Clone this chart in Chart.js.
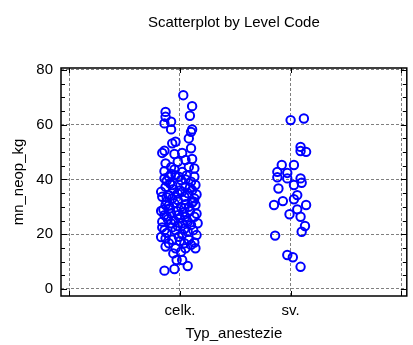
<!DOCTYPE html>
<html>
<head>
<meta charset="utf-8">
<script src="https://cdn.jsdelivr.net/npm/chart.js@4.4.1/dist/chart.umd.min.js"></script>
<style>
html,body{margin:0;padding:0;background:#fff;}
#wrap{width:413px;height:345px;position:relative;}
</style>
</head>
<body>
<div id="wrap"><canvas id="c" width="413" height="345"></canvas></div>
<script>
const categories = ['celk.', 'sv.'];
const categoryPositions = [1, 2];
const yTicks = [0, 20, 40, 60, 80];

const celkValues = [70.8,66.8,64.7,63.3,62.9,60.5,61.1,58.3,58.3,57.4,55.0,53.8,53.2,51.4,50.5,49.7,49.3,49.7,45.9,46.5,47.1,44.6,44.0,43.7,42.8,40.4,41.0,41.6,39.8,39.2,38.0,37.3,38.0,37.3,36.1,33.7,34.3,34.9,33.7,33.1,30.7,31.3,30.0,30.0,30.7,27.0,27.6,27.0,26.4,26.4,24.6,24.0,24.0,23.4,21.5,21.5,20.9,19.7,18.5,19.1,16.7,16.7,16.1,14.9,14.9,13.6,14.9,10.6,10.6,8.4,7.3,6.7,
  35.5,32.0,36.5,36.0,35.0,32.0,29.0,29.5,28.5,28.0,28.5,27.5,25.5,25.0,26.0,25.0,22.5,22.0,20.5,21.5,41.0,41.5,44.5,47.5,22.5,19.0,24.0,32.5,31.0,38.5,41.0,43.0,17.5,18.0,13.0,17.0,15.5,
  26.5,30.5,33.0,35.5,37.0,39.5,31.5,23.0,24.5,28.5,34.5,40.0,42.0,20.0,18.0,29.5,33.5];
const celkJitter = [0.03,0.11,-0.13,0.09,-0.13,-0.14,-0.08,-0.08,0.11,0.10,0.08,-0.04,-0.07,0.10,-0.14,-0.16,-0.05,0.02,-0.13,-0.02,0.05,0.08,0.13,-0.05,0.02,-0.14,-0.10,-0.04,0.01,0.10,0.14,-0.13,-0.07,0.05,0.11,-0.16,-0.10,-0.02,0.04,0.13,-0.13,-0.05,0.01,0.08,0.14,-0.14,-0.08,-0.02,0.05,0.13,-0.16,-0.08,0.02,0.10,-0.14,-0.04,0.07,0.15,-0.13,-0.01,-0.10,0.04,0.10,0.14,-0.04,0.01,0.05,-0.03,0.02,0.07,-0.05,-0.14,
  -0.17,-0.12,-0.06,0.00,0.07,0.12,-0.15,-0.09,-0.03,0.03,0.09,0.15,-0.11,-0.05,0.00,0.06,-0.07,0.04,-0.12,0.12,-0.01,0.06,-0.08,0.11,-0.16,-0.17,0.16,-0.02,0.05,-0.09,0.13,-0.14,0.00,0.08,-0.06,0.13,-0.13,
  -0.12,-0.10,-0.07,0.02,0.09,-0.12,0.11,-0.02,0.07,-0.17,0.15,0.05,-0.08,0.02,-0.07,0.04,-0.12];

const svValues = [61.7,62.3,51.9,50.4,50.1,45.3,45.3,42.8,42.4,40.8,40.4,40.4,38.8,38.0,36.7,34.3,32.8,32.1,30.7,30.7,29.1,27.3,26.4,23.0,20.9,19.5,12.4,11.6,8.1];
const svJitter = [0.00,0.12,0.09,0.09,0.14,-0.08,0.03,-0.12,-0.03,-0.12,-0.03,0.09,0.10,0.03,-0.11,0.06,0.03,-0.07,-0.15,0.14,0.06,-0.01,0.09,0.13,0.10,-0.14,-0.03,0.02,0.09];

function toPoints(pos, jitter, values) {
  return values.map((v, i) => ({x: pos + jitter[i], y: v}));
}

const FONT = "'Liberation Sans', Arial, sans-serif";

const framePlugin = {
  id: 'frame',
  afterDatasetsDraw(chart) {
    const {ctx, chartArea: a, scales} = chart;
    const ys = scales.y, xs = scales.x;
    ctx.save();
    ctx.strokeStyle = '#000';
    ctx.lineWidth = 1;
    for (let v = 0; v <= 80; v += 5) {
      const py = Math.round(ys.getPixelForValue(v)) + 0.5;
      const len = (v % 20 === 0) ? 6 : 4;
      ctx.beginPath();
      ctx.moveTo(a.left, py); ctx.lineTo(a.left + len, py);
      ctx.moveTo(a.right, py); ctx.lineTo(a.right - len, py);
      ctx.stroke();
    }
    for (let v = 0; v <= 3; v += 1) {
      const px = Math.round(xs.getPixelForValue(v)) + 0.5;
      ctx.beginPath();
      ctx.moveTo(px, a.top); ctx.lineTo(px, a.top + 5);
      ctx.moveTo(px, a.bottom); ctx.lineTo(px, a.bottom - 5);
      ctx.stroke();
    }
    ctx.lineWidth = 1.5;
    ctx.strokeRect(a.left, a.top, a.right - a.left, a.bottom - a.top);
    ctx.restore();
  }
};

const pointStyle = {
  showLine: false,
  pointRadius: 4.2,
  pointHoverRadius: 4.2,
  pointBorderWidth: 2,
  pointBorderColor: '#0000ff',
  pointBackgroundColor: 'rgba(0,0,0,0)'
};

new Chart(document.getElementById('c'), {
  type: 'scatter',
  data: {
    datasets: [
      Object.assign({label: categories[0], data: toPoints(categoryPositions[0], celkJitter, celkValues)}, pointStyle),
      Object.assign({label: categories[1], data: toPoints(categoryPositions[1], svJitter, svValues)}, pointStyle)
    ]
  },
  options: {
    responsive: false,
    animation: false,
    layout: {padding: {left: 0, right: 4, top: 0, bottom: 0}},
    plugins: {
      legend: {display: false},
      tooltip: {enabled: false},
      title: {
        display: true,
        fullSize: false,
        text: 'Scatterplot by Level Code',
        color: '#000',
        font: {family: FONT, size: 15, weight: 'normal'},
        padding: {top: 14, bottom: 36}
      }
    },
    scales: {
      x: {
        type: 'linear',
        min: -0.075,
        max: 3.05,
        afterBuildTicks(s) { s.ticks = [0, 1, 2, 3].map(v => ({value: v})); },
        afterFit(s) { s.height = 49; },
        grid: {color: '#808080', lineWidth: 1, drawTicks: false},
        border: {display: false, dash: [3, 2]},
        ticks: {
          color: '#000',
          padding: 6,
          maxRotation: 0,
          autoSkip: false,
          font: {family: FONT, size: 15},
          callback(v) { const i = categoryPositions.indexOf(v); return i >= 0 ? categories[i] : ''; }
        },
        title: {display: true, text: 'Typ_anestezie', color: '#000', font: {family: FONT, size: 15}, padding: {top: 0, bottom: 2}}
      },
      y: {
        type: 'linear',
        min: -2.56,
        max: 80.73,
        afterBuildTicks(s) { s.ticks = yTicks.map(v => ({value: v})); },
        afterFit(s) { s.width = 61; },
        grid: {color: '#808080', lineWidth: 1, drawTicks: false},
        border: {display: false, dash: [3, 2]},
        ticks: {color: '#000', padding: 8, font: {family: FONT, size: 15}},
        title: {display: true, text: 'mn_neop_kg', color: '#000', font: {family: FONT, size: 15}, padding: {top: 10, bottom: 0}}
      }
    }
  },
  plugins: [framePlugin]
});
</script>
</body>
</html>
